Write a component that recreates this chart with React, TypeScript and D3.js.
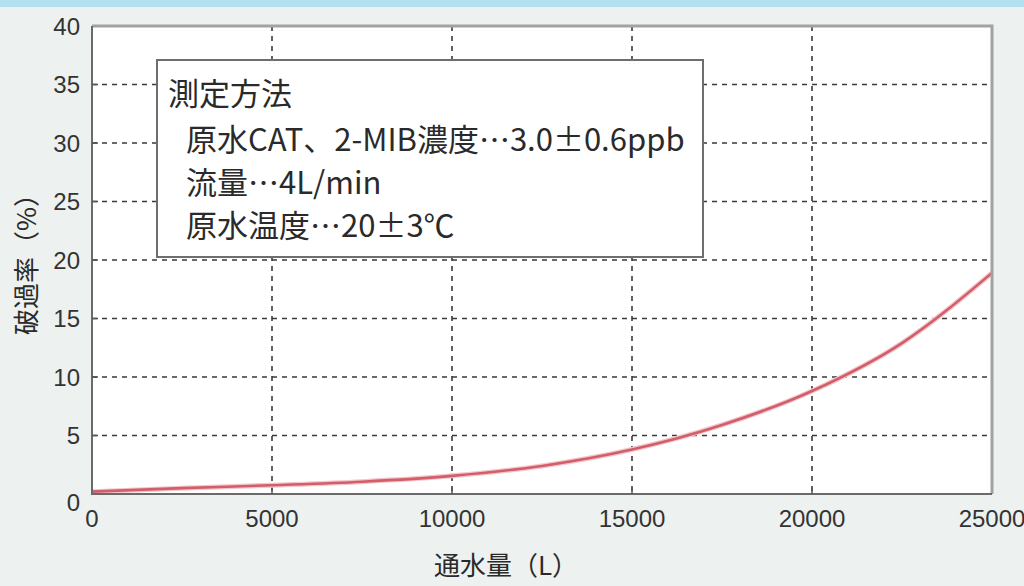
import { useEffect, useRef } from "react";
import * as d3 from "d3";

// 通水量 (L) and 破過率 (%)
const throughput = [0, 2500, 5000, 7500, 10000, 12500, 15000, 17500, 20000, 22500, 25000];
const breakthrough = [0.2, 0.5, 0.75, 1.05, 1.55, 2.4, 3.8, 5.9, 8.8, 12.9, 18.9];

const xTicks = [0, 5000, 10000, 15000, 20000, 25000];
const yTicks = [0, 5, 10, 15, 20, 25, 30, 35, 40];

const noteTitle = "測定方法";
const noteLines = ["原水CAT、2-MIB濃度…3.0±0.6ppb", "流量…4L/min", "原水温度…20±3℃"];

const xLabel = "通水量（L）";
const yLabel = "破過率（%）";

const JP = "'Noto Sans CJK JP', 'Noto Sans', sans-serif";
const NUM = "'Liberation Sans', Arial, sans-serif";

export default function App() {
  const svgRef = useRef<SVGSVGElement>(null);

  useEffect(() => {
    if (!svgRef.current) return;
    const svg = d3.select(svgRef.current);
    svg.selectAll("*").remove();

    const width = 1024;
    const height = 586;
    const margin = { top: 26, right: 32, bottom: 92, left: 92 };
    const x0 = margin.left;
    const x1 = width - margin.right;
    const y0 = height - margin.bottom;
    const y1 = margin.top;

    const x = d3.scaleLinear().domain([0, 25000]).range([x0, x1]);
    const y = d3.scaleLinear().domain([0, 40]).range([y0, y1]);

    // background
    svg.append("rect").attr("width", width).attr("height", height).attr("fill", "#edf1ef");
    svg.append("rect").attr("width", width).attr("height", 7).attr("fill", "#b3dff0");

    svg
      .append("defs")
      .append("clipPath")
      .attr("id", "plot-clip")
      .append("rect")
      .attr("x", x0)
      .attr("y", y1)
      .attr("width", x1 - x0)
      .attr("height", y0 - y1);

    svg
      .append("rect")
      .attr("x", x0)
      .attr("y", y1)
      .attr("width", x1 - x0)
      .attr("height", y0 - y1)
      .attr("fill", "#ffffff");

    // grid
    const grid = svg.append("g").attr("stroke", "#3a3a3a").attr("stroke-width", 1.6).attr("stroke-dasharray", "5 5");
    grid
      .selectAll(".vgrid")
      .data(xTicks.slice(1, -1))
      .join("line")
      .attr("x1", (d) => x(d))
      .attr("x2", (d) => x(d))
      .attr("y1", y1)
      .attr("y2", y0);
    grid
      .selectAll(".hgrid")
      .data(yTicks.slice(1, -1))
      .join("line")
      .attr("x1", x0)
      .attr("x2", x1)
      .attr("y1", (d) => y(d))
      .attr("y2", (d) => y(d));

    // curve
    const pts = throughput.map((t, i) => [t, breakthrough[i]] as [number, number]);
    const line = d3
      .line<[number, number]>()
      .x((d) => x(d[0]))
      .y((d) => y(d[1]))
      .curve(d3.curveMonotoneX);
    const curveG = svg.append("g").attr("clip-path", "url(#plot-clip)");
    curveG
      .append("path")
      .datum(pts)
      .attr("fill", "none")
      .attr("stroke", "#f4c6cb")
      .attr("stroke-width", 5)
      .attr("d", line);
    curveG
      .append("path")
      .datum(pts)
      .attr("fill", "none")
      .attr("stroke", "#d25e6a")
      .attr("stroke-width", 2.6)
      .attr("d", line);

    // note box
    const bx = 157;
    const by = 60;
    const bw = 546;
    const bh = 197;
    svg
      .append("rect")
      .attr("x", bx)
      .attr("y", by)
      .attr("width", bw)
      .attr("height", bh)
      .attr("fill", "#ffffff")
      .attr("stroke", "#6e6e6e")
      .attr("stroke-width", 2);

    svg
      .append("text")
      .attr("x", 168)
      .attr("y", 94)
      .attr("dy", "0.36em")
      .attr("font-family", JP)
      .attr("font-size", 31)
      .attr("fill", "#2a2a2a")
      .text(noteTitle);
    svg
      .selectAll(".note")
      .data(noteLines)
      .join("text")
      .attr("x", 186)
      .attr("y", (_, i) => 140 + i * 43)
      .attr("dy", "0.36em")
      .attr("font-family", JP)
      .attr("font-size", 31)
      .attr("fill", "#2a2a2a")
      .text((d) => d);

    // frame
    svg
      .append("path")
      .attr("d", `M${x0},${y1}H${x1}V${y0}`)
      .attr("fill", "none")
      .attr("stroke", "#a2a2a2")
      .attr("stroke-width", 3);
    svg
      .append("path")
      .attr("d", `M${x0},${y1}V${y0}H${x1}`)
      .attr("fill", "none")
      .attr("stroke", "#6a6a6a")
      .attr("stroke-width", 2);

    // inward ticks
    const ticks = svg.append("g").attr("stroke", "#555").attr("stroke-width", 1.5);
    ticks
      .selectAll(".yt")
      .data(yTicks.slice(1, -1))
      .join("line")
      .attr("x1", x0)
      .attr("x2", x0 + 6)
      .attr("y1", (d) => y(d))
      .attr("y2", (d) => y(d));
    ticks
      .selectAll(".xt")
      .data(xTicks.slice(1, -1))
      .join("line")
      .attr("x1", (d) => x(d))
      .attr("x2", (d) => x(d))
      .attr("y1", y0)
      .attr("y2", y0 - 6);

    // tick labels
    svg
      .selectAll(".ylab")
      .data(yTicks)
      .join("text")
      .attr("x", x0 - 12)
      .attr("y", (d) => y(d) + (d === 0 ? 8 : 0))
      .attr("dy", "0.36em")
      .attr("text-anchor", "end")
      .attr("font-family", NUM)
      .attr("font-size", 24)
      .attr("fill", "#333")
      .text((d) => d);
    svg
      .selectAll(".xlab")
      .data(xTicks)
      .join("text")
      .attr("x", (d) => x(d))
      .attr("y", 527)
      .attr("text-anchor", "middle")
      .attr("font-family", NUM)
      .attr("font-size", 24)
      .attr("fill", "#333")
      .text((d) => d);

    // axis titles
    svg
      .append("text")
      .attr("x", 506)
      .attr("y", 566)
      .attr("dy", "0.36em")
      .attr("text-anchor", "middle")
      .attr("font-family", JP)
      .attr("font-size", 26)
      .attr("fill", "#2a2a2a")
      .text(xLabel);
    svg
      .append("text")
      .attr("transform", "translate(27,258) rotate(-90)")
      .attr("dy", "0.36em")
      .attr("text-anchor", "middle")
      .attr("font-family", JP)
      .attr("font-size", 26)
      .attr("fill", "#2a2a2a")
      .text(yLabel);
  }, []);

  return (
    <div style={{ position: "absolute", left: 0, top: 0, width: 1024, height: 586, overflow: "hidden" }}>
      <svg ref={svgRef} width={1024} height={586} style={{ display: "block" }} />
    </div>
  );
}
